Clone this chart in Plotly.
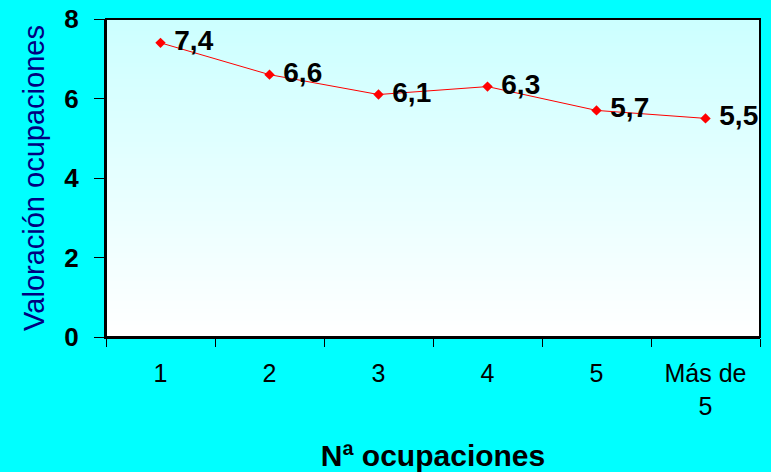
import plotly.graph_objects as go

categories = ["1", "2", "3", "4", "5", "Más de<br>5"]
values = [7.4, 6.6, 6.1, 6.3, 5.7, 5.5]
labels = ["7,4", "6,6", "6,1", "6,3", "5,7", "5,5"]
y_ticks = [0, 2, 4, 6, 8]

fig = go.Figure()
fig.add_trace(go.Scatter(
    x=categories, y=values, mode="lines+markers+text",
    text=[" " + t for t in labels], textposition="middle right",
    textfont=dict(family="Liberation Sans, Arial", size=28, color="black", weight="bold"),
    line=dict(color="#FF0000", width=1),
    marker=dict(symbol="diamond", size=8, color="#FF0000"),
    cliponaxis=False, showlegend=False,
))

# vertical gradient background in plot area
n = 80
top = (204, 255, 255)
bot = (255, 255, 255)
shapes = []
for i in range(n):
    t = i / (n - 1)
    c = tuple(round(bot[k] + (top[k] - bot[k]) * t) for k in range(3))
    shapes.append(dict(type="rect", xref="x domain", yref="y domain",
                       x0=0, x1=1, y0=i / n, y1=min(1, (i + 2) / n),
                       fillcolor="rgb(%d,%d,%d)" % c, line=dict(width=0), layer="below"))
shapes.append(dict(type="rect", xref="x domain", yref="y domain", x0=0, x1=1, y0=0, y1=1,
                   line=dict(color="black", width=2), layer="above"))

fig.update_layout(
    width=771, height=472,
    paper_bgcolor="#00FFFF", plot_bgcolor="rgba(0,0,0,0)",
    margin=dict(l=106, r=11, t=19, b=135, autoexpand=False),
    shapes=shapes,
    font=dict(family="Liberation Sans, Arial", color="black"),
    xaxis=dict(
        type="category", range=[-0.5, 5.5], tickson="boundaries",
        ticks="outside", ticklen=8, tickcolor="black", tickwidth=1,
        showline=True, linecolor="black", linewidth=2, showgrid=False,
        tickfont=dict(size=25, color="black"), ticklabelstandoff=13,
        title=dict(text="<b>Nª ocupaciones</b>", font=dict(size=30, color="black"), standoff=28),
    ),
    yaxis=dict(
        range=[0, 8], tickvals=y_ticks, ticktext=["<b>%d</b>" % v for v in y_ticks],
        ticks="outside", ticklen=10, tickcolor="black", tickwidth=1,
        showline=True, linecolor="black", linewidth=2, showgrid=False, zeroline=False,
        tickfont=dict(size=26, color="black"), ticklabelstandoff=10,
        title=dict(text="Valoración ocupaciones", font=dict(size=29, color="#000080"), standoff=11),
    ),
)

fig.write_html("out.html", config={"displayModeBar": False},
               post_script="document.body.style.margin='0';")
